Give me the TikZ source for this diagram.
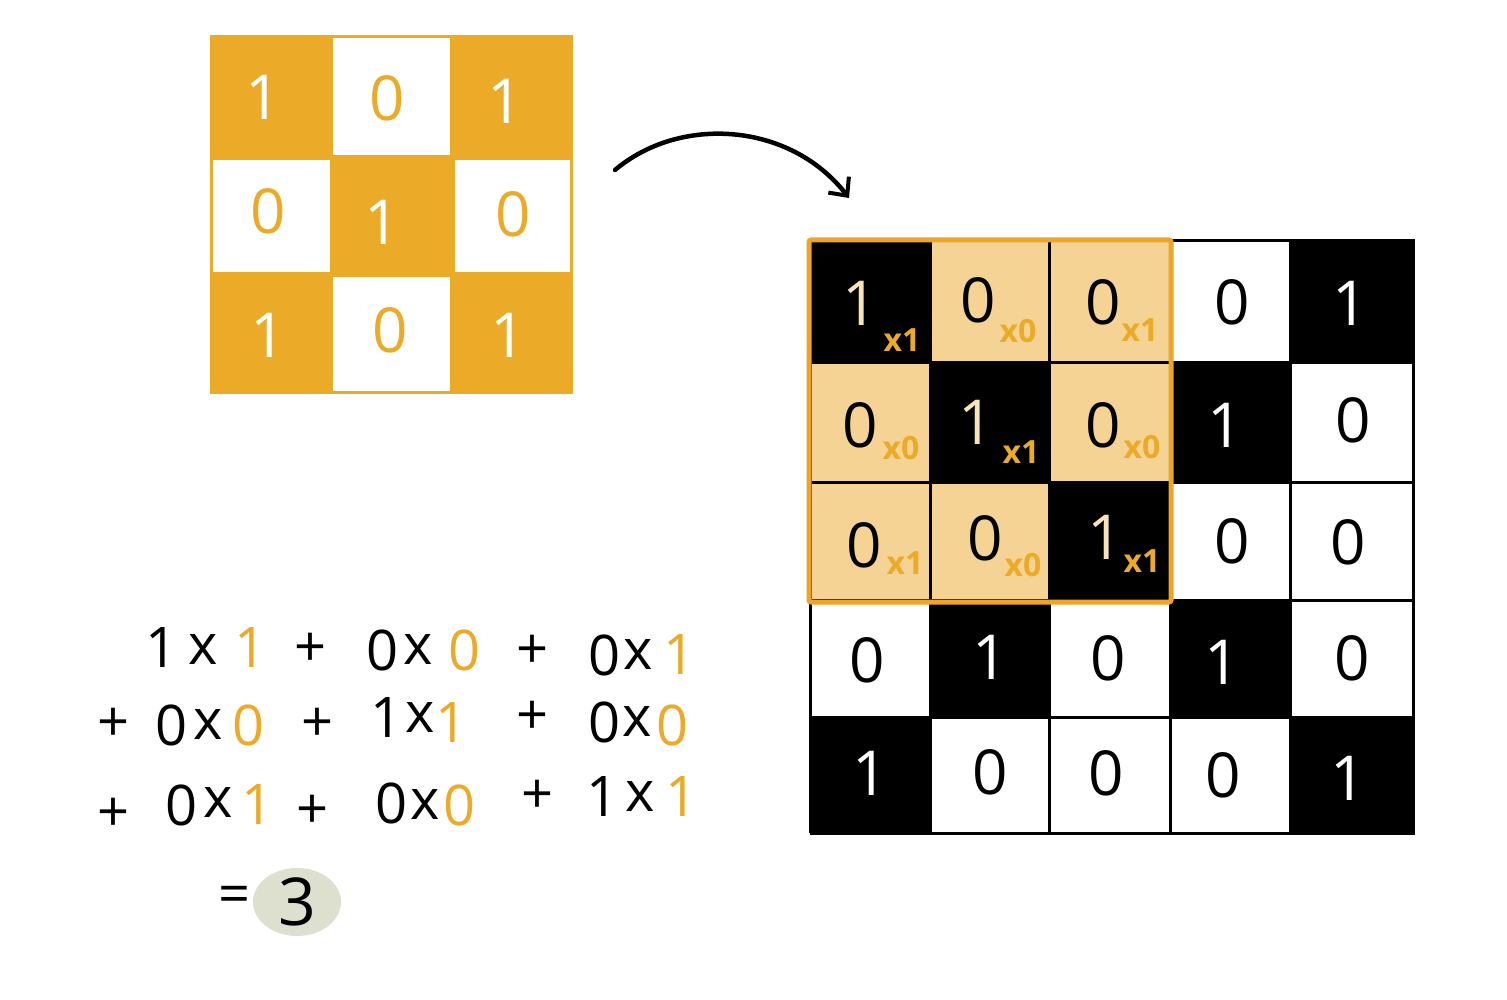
\documentclass[tikz,border=0pt]{standalone}
\usepackage{fontspec}
\setmainfont{Open Sans}
\usetikzlibrary{arrows.meta}
\definecolor{korange}{RGB}{235,170,40}
\definecolor{hlfill}{RGB}{245,211,148}
\definecolor{hlborder}{RGB}{236,165,38}
\definecolor{cream}{RGB}{247,228,185}
\definecolor{sage}{RGB}{221,224,207}
\tikzset{
  big/.style={inner sep=0pt, font=\fontsize{62}{62}\selectfont},
  kw/.style={big, text=white},
  ko/.style={big, text=korange},
  dk/.style={big, text=black},
  lt/.style={big, text=white},
  crm/.style={big, text=cream},
  sub/.style={inner sep=0pt, text=korange, font=\fontsize{32}{32}\selectfont\bfseries},
  eq/.style={inner sep=0pt, text=black, font=\fontsize{56}{56}\selectfont},
  eqo/.style={eq, text=korange},
  cellline/.style={line width=3pt, black},
  blk/.style={fill=black},
  hl/.style={fill=hlfill},
}
\begin{document}
\begin{tikzpicture}[x=1pt,y=-1pt]
\useasboundingbox (0,0) rectangle (1507,1000);
\fill[white] (0,0) rectangle (1507,1000);

% ---------- kernel ----------
\fill[korange] (210,35) rectangle (573,394);
\fill[white] (333,38) rectangle (450,155);
\fill[white] (213,160) rectangle (330,272);
\fill[white] (455,160) rectangle (570,272);
\fill[white] (333,277) rectangle (450,391);

\node[kw] (k11) at (263,97) {1};
\node[ko] (k12) at (387,98) {0};
\node[kw] (k13) at (505,101) {1};
\node[ko] (k21) at (268,211) {0};
\node[kw] (k22) at (382,222) {1};
\node[ko] (k23) at (513,214) {0};
\node[kw] (k31) at (268,335) {1};
\node[ko] (k32) at (390,330) {0};
\node[kw] (k33) at (508,335) {1};

% ---------- arrow ----------
\coordinate (as) at (615,170);
\coordinate (ae) at (849,198);
\draw[line width=4.5pt, line cap=round, -{Straight Barb[length=14pt,width=26pt,line width=4pt]}]
  (as) .. controls (680,115) and (790,122) .. (ae);

% ---------- image grid ----------
% black cells
\fill[blk] (810,241) rectangle (930,362);
\fill[blk] (1290,241) rectangle (1413,362);
\fill[blk] (930,362) rectangle (1049,482);
\fill[blk] (1170,362) rectangle (1290,482);
\fill[blk] (1049,482) rectangle (1170,600);
\fill[blk] (930,600) rectangle (1049,717);
\fill[blk] (1170,600) rectangle (1290,717);
\fill[blk] (810,717) rectangle (930,833);
\fill[blk] (1290,717) rectangle (1413,833);
% highlighted light cells
\fill[hl] (930,241) rectangle (1049,362);
\fill[hl] (1049,241) rectangle (1170,362);
\fill[hl] (810,362) rectangle (930,482);
\fill[hl] (1049,362) rectangle (1170,482);
\fill[hl] (810,482) rectangle (930,600);
\fill[hl] (930,482) rectangle (1049,600);
% grid lines
\foreach \xx in {810,930,1049,1170,1290,1413}
  \draw[cellline] (\xx,241) -- (\xx,833);
\foreach \yy in {241,362,482,600,717,833}
  \draw[cellline] (810,\yy) -- (1415,\yy);
% highlight border
\draw[hlborder, line width=5pt, rounded corners=2pt] (809,240) rectangle (1171,602);

% grid digits
\node[crm] (g11) at (860,303) {1};
\node[sub] (s11) at (902,340) {x1};
\node[dk]  (g12) at (978,300) {0};
\node[sub] (s12) at (1018,331) {x0};
\node[dk]  (g13) at (1103,302) {0};
\node[sub] (s13) at (1140,330) {x1};
\node[dk]  (g14) at (1232,302) {0};
\node[lt]  (g15) at (1350,303) {1};

\node[dk]  (g21) at (860,425) {0};
\node[sub] (s21) at (901,448) {x0};
\node[crm] (g22) at (976,422) {1};
\node[sub] (s22) at (1021,452) {x1};
\node[dk]  (g23) at (1103,425) {0};
\node[sub] (s23) at (1142,447) {x0};
\node[lt]  (g24) at (1225,425) {1};
\node[dk]  (g25) at (1353,420) {0};

\node[dk]  (g31) at (864,545) {0};
\node[sub] (s31) at (905,563) {x1};
\node[dk]  (g32) at (985,538) {0};
\node[sub] (s32) at (1023,565) {x0};
\node[crm] (g33) at (1105,537) {1};
\node[sub] (s33) at (1142,561) {x1};
\node[dk]  (g34) at (1232,541) {0};
\node[dk]  (g35) at (1348,542) {0};

\node[dk]  (g41) at (867,660) {0};
\node[lt]  (g42) at (990,657) {1};
\node[dk]  (g43) at (1108,658) {0};
\node[lt]  (g44) at (1222,662) {1};
\node[dk]  (g45) at (1352,658) {0};

\node[lt]  (g51) at (870,773) {1};
\node[dk]  (g52) at (990,772) {0};
\node[dk]  (g53) at (1106,773) {0};
\node[dk]  (g54) at (1223,775) {0};
\node[lt]  (g55) at (1348,778) {1};

% ---------- equation ----------
\foreach \xx/\yy/\tt/\ss [count=\i] in {
  162/648/1/eq, 203/650/x/eq, 251/648/1/eqo, 311/650/+/eq,
  383/650/0/eq, 418/650/x/eq, 465/650/0/eqo, 533/652/+/eq,
  605/655/0/eq, 638/655/x/eq, 680/655/1/eqo}
  \node[\ss] (ea\i) at (\xx,\yy) {\tt};
\foreach \xx/\yy/\tt/\ss [count=\i] in {
  114/725/+/eq, 172/725/0/eq, 208/725/x/eq, 249/725/0/eqo,
  318/725/+/eq, 387/718/1/eq, 420/718/x/eq, 452/723/1/eqo,
  533/718/+/eq, 605/722/0/eq, 637/722/x/eq, 673/725/0/eqo}
  \node[\ss] (eb\i) at (\xx,\yy) {\tt};
\foreach \xx/\yy/\tt/\ss [count=\i] in {
  114/815/+/eq, 182/805/0/eq, 218/803/x/eq, 258/805/1/eqo,
  313/812/+/eq, 392/803/0/eq, 425/805/x/eq, 460/805/0/eqo,
  538/797/+/eq, 603/797/1/eq, 640/797/x/eq, 682/797/1/eqo}
  \node[\ss] (ec\i) at (\xx,\yy) {\tt};

\node[eq] (eqs) at (235,900) {=};
\fill[sage] (297,902) ellipse [x radius=44, y radius=34];
\node[eq, font=\fontsize{66}{66}\selectfont] (res) at (297,902) {3};
\end{tikzpicture}
\end{document}
